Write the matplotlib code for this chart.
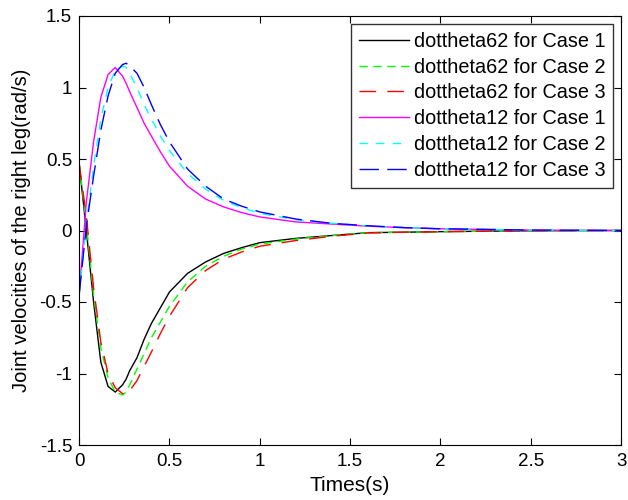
import matplotlib
matplotlib.use("Agg")
import matplotlib.pyplot as plt

plt.rcParams["font.family"] = ["Liberation Sans", "DejaVu Sans"]

t = [0, 0.04, 0.08, 0.12, 0.16, 0.2, 0.24, 0.26, 0.28, 0.32, 0.36, 0.4, 0.45,
     0.5, 0.6, 0.7, 0.8, 0.9, 1.0, 1.2, 1.4, 1.6, 1.8, 2.0, 2.5, 3.0]

# dottheta62
d62_case1 = [0.47, 0.0, -0.5, -0.92, -1.09, -1.13, -1.08, -1.04, -0.98, -0.89, -0.76, -0.65, -0.54,
             -0.43, -0.3, -0.22, -0.16, -0.12, -0.085, -0.055, -0.035, -0.015, -0.012, -0.008, -0.002, 0.0]
d62_case2 = [0.47, 0.05, -0.45, -0.82, -1.03, -1.13, -1.15, -1.13, -1.08, -0.97, -0.86, -0.75, -0.64,
             -0.53, -0.36, -0.25, -0.18, -0.13, -0.095, -0.06, -0.035, -0.015, -0.012, -0.008, -0.002, 0.0]
d62_case3 = [0.47, 0.1, -0.4, -0.78, -1.0, -1.1, -1.14, -1.15, -1.12, -1.05, -0.95, -0.85, -0.72,
             -0.6, -0.4, -0.28, -0.2, -0.15, -0.11, -0.07, -0.04, -0.017, -0.012, -0.008, -0.002, 0.0]

# dottheta12
d12_case1 = [-0.45, 0.2, 0.62, 0.93, 1.09, 1.14, 1.08, 1.03, 0.97, 0.86, 0.75, 0.66, 0.55,
             0.45, 0.31, 0.22, 0.165, 0.125, 0.095, 0.06, 0.045, 0.03, 0.02, 0.012, 0.003, 0.0]
d12_case2 = [-0.45, 0.05, 0.45, 0.78, 1.0, 1.12, 1.15, 1.14, 1.1, 1.0, 0.88, 0.78, 0.66,
             0.56, 0.4, 0.29, 0.21, 0.16, 0.12, 0.075, 0.05, 0.032, 0.02, 0.012, 0.003, 0.0]
d12_case3 = [-0.45, 0.03, 0.38, 0.7, 0.94, 1.1, 1.16, 1.17, 1.15, 1.1, 1.0, 0.88, 0.74,
             0.62, 0.43, 0.31, 0.22, 0.17, 0.13, 0.08, 0.05, 0.033, 0.02, 0.012, 0.003, 0.0]

fig = plt.figure(figsize=(6.28, 5.0), dpi=100)
ax = fig.add_axes([0.126, 0.11, 0.863, 0.858])

ax.plot(t, d62_case1, color="black", lw=1.0, label="dottheta62 for Case 1")
ax.plot(t, d62_case2, color="#00ff00", lw=1.0, dashes=(6, 4), label="dottheta62 for Case 2")
ax.plot(t, d62_case3, color="red", lw=1.0, dashes=(12, 8), label="dottheta62 for Case 3")
ax.plot(t, d12_case1, color="magenta", lw=1.0, label="dottheta12 for Case 1")
ax.plot(t, d12_case2, color="cyan", lw=1.0, dashes=(6, 6), label="dottheta12 for Case 2")
ax.plot(t, d12_case3, color="blue", lw=1.0, dashes=(14, 6), label="dottheta12 for Case 3")

ax.set_xlim(0, 3)
ax.set_ylim(-1.5, 1.5)
ax.set_xticks([0, 0.5, 1, 1.5, 2, 2.5, 3])
ax.set_xticklabels(["0", "0.5", "1", "1.5", "2", "2.5", "3"])
ax.set_yticks([-1.5, -1, -0.5, 0, 0.5, 1, 1.5])
ax.set_yticklabels(["-1.5", "-1", "-0.5", "0", "0.5", "1", "1.5"])
ax.tick_params(direction="in", top=True, right=True, length=5, labelsize=13.5)
ax.tick_params(axis="x", pad=6)
ax.tick_params(axis="y", pad=5)
ax.set_xlabel("Times(s)", fontsize=15, labelpad=4)
ax.set_ylabel("Joint velocities of the right leg(rad/s)", fontsize=14.5, labelpad=6)

leg = ax.legend(loc="upper right", fontsize=14.3, frameon=True, fancybox=False,
                edgecolor="black", borderaxespad=0.4, handlelength=2.5,
                handletextpad=0.25, labelspacing=0.34, borderpad=0.4)
leg.get_frame().set_linewidth(1.0)

fig.savefig("out.png", dpi=100)
